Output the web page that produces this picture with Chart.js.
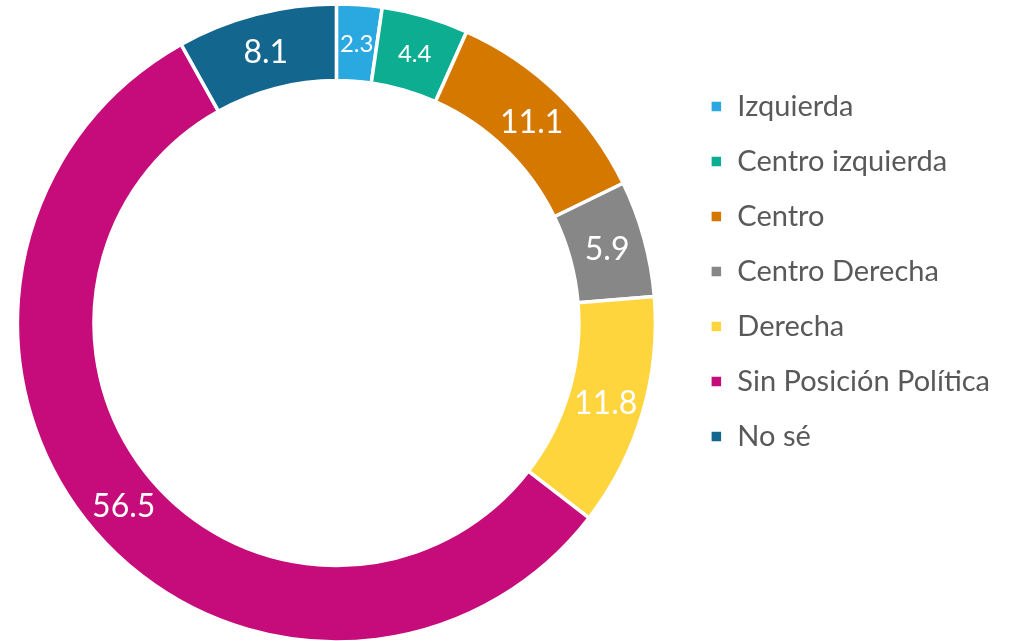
<!DOCTYPE html>
<html>
<head>
<meta charset="utf-8">
<script src="https://cdn.jsdelivr.net/npm/chart.js@4"></script>
<style>
  html, body { margin: 0; padding: 0; background: #ffffff; }
  #wrap { width: 1017px; height: 641px; position: relative; }
</style>
</head>
<body>
<div id="wrap"><canvas id="c" width="1017" height="641"></canvas></div>
<script>
const categories = ["Izquierda", "Centro izquierda", "Centro", "Centro Derecha", "Derecha", "Sin Posición Política", "No sé"];
const values = [2.3, 4.4, 11.1, 5.9, 11.8, 56.5, 8.1];
const colors = ["#29A9E0", "#0DAD92", "#D57800", "#878787", "#FED53D", "#C50C7A", "#13678E"];
const labelSizes = [24, 24, 32, 32, 32, 32, 32];

const FONT = "Lato";

const sliceLabels = {
  id: "sliceLabels",
  afterDatasetsDraw(chart) {
    const ctx = chart.ctx;
    const meta = chart.getDatasetMeta(0);
    ctx.save();
    ctx.fillStyle = "#ffffff";
    ctx.textAlign = "center";
    ctx.textBaseline = "middle";
    meta.data.forEach((arc, i) => {
      const p = arc.getCenterPoint();
      ctx.font = labelSizes[i] + "px " + FONT;
      ctx.fillText(values[i].toFixed(1), p.x, p.y + 1);
    });
    ctx.restore();
  }
};

// widen the plot area to the left so the ring sits where the reference has it
const shiftArea = {
  id: "shiftArea",
  afterLayout(chart) {
    const a = chart.chartArea;
    a.left -= 11;
    a.width = a.right - a.left;
  }
};

new Chart(document.getElementById("c"), {
  type: "doughnut",
  data: {
    labels: categories,
    datasets: [{
      data: values,
      backgroundColor: colors,
      borderColor: "#ffffff",
      borderWidth: 3.5,
      hoverOffset: 0
    }]
  },
  options: {
    responsive: false,
    animation: false,
    radius: 319,
    cutout: "76%",
    layout: { padding: { top: 5, bottom: 0, left: 0, right: 17 } },
    plugins: {
      tooltip: { enabled: false },
      legend: {
        position: "right",
        align: "start",
        title: { display: true, text: "", padding: { top: 46.6, bottom: 0 }, font: { size: 12 } },
        labels: {
          boxWidth: 13,
          boxHeight: 13,
          padding: 26,
          color: "#595959",
          font: { family: FONT, size: 29 }
        }
      }
    }
  },
  plugins: [shiftArea, sliceLabels]
});
</script>
</body>
</html>
